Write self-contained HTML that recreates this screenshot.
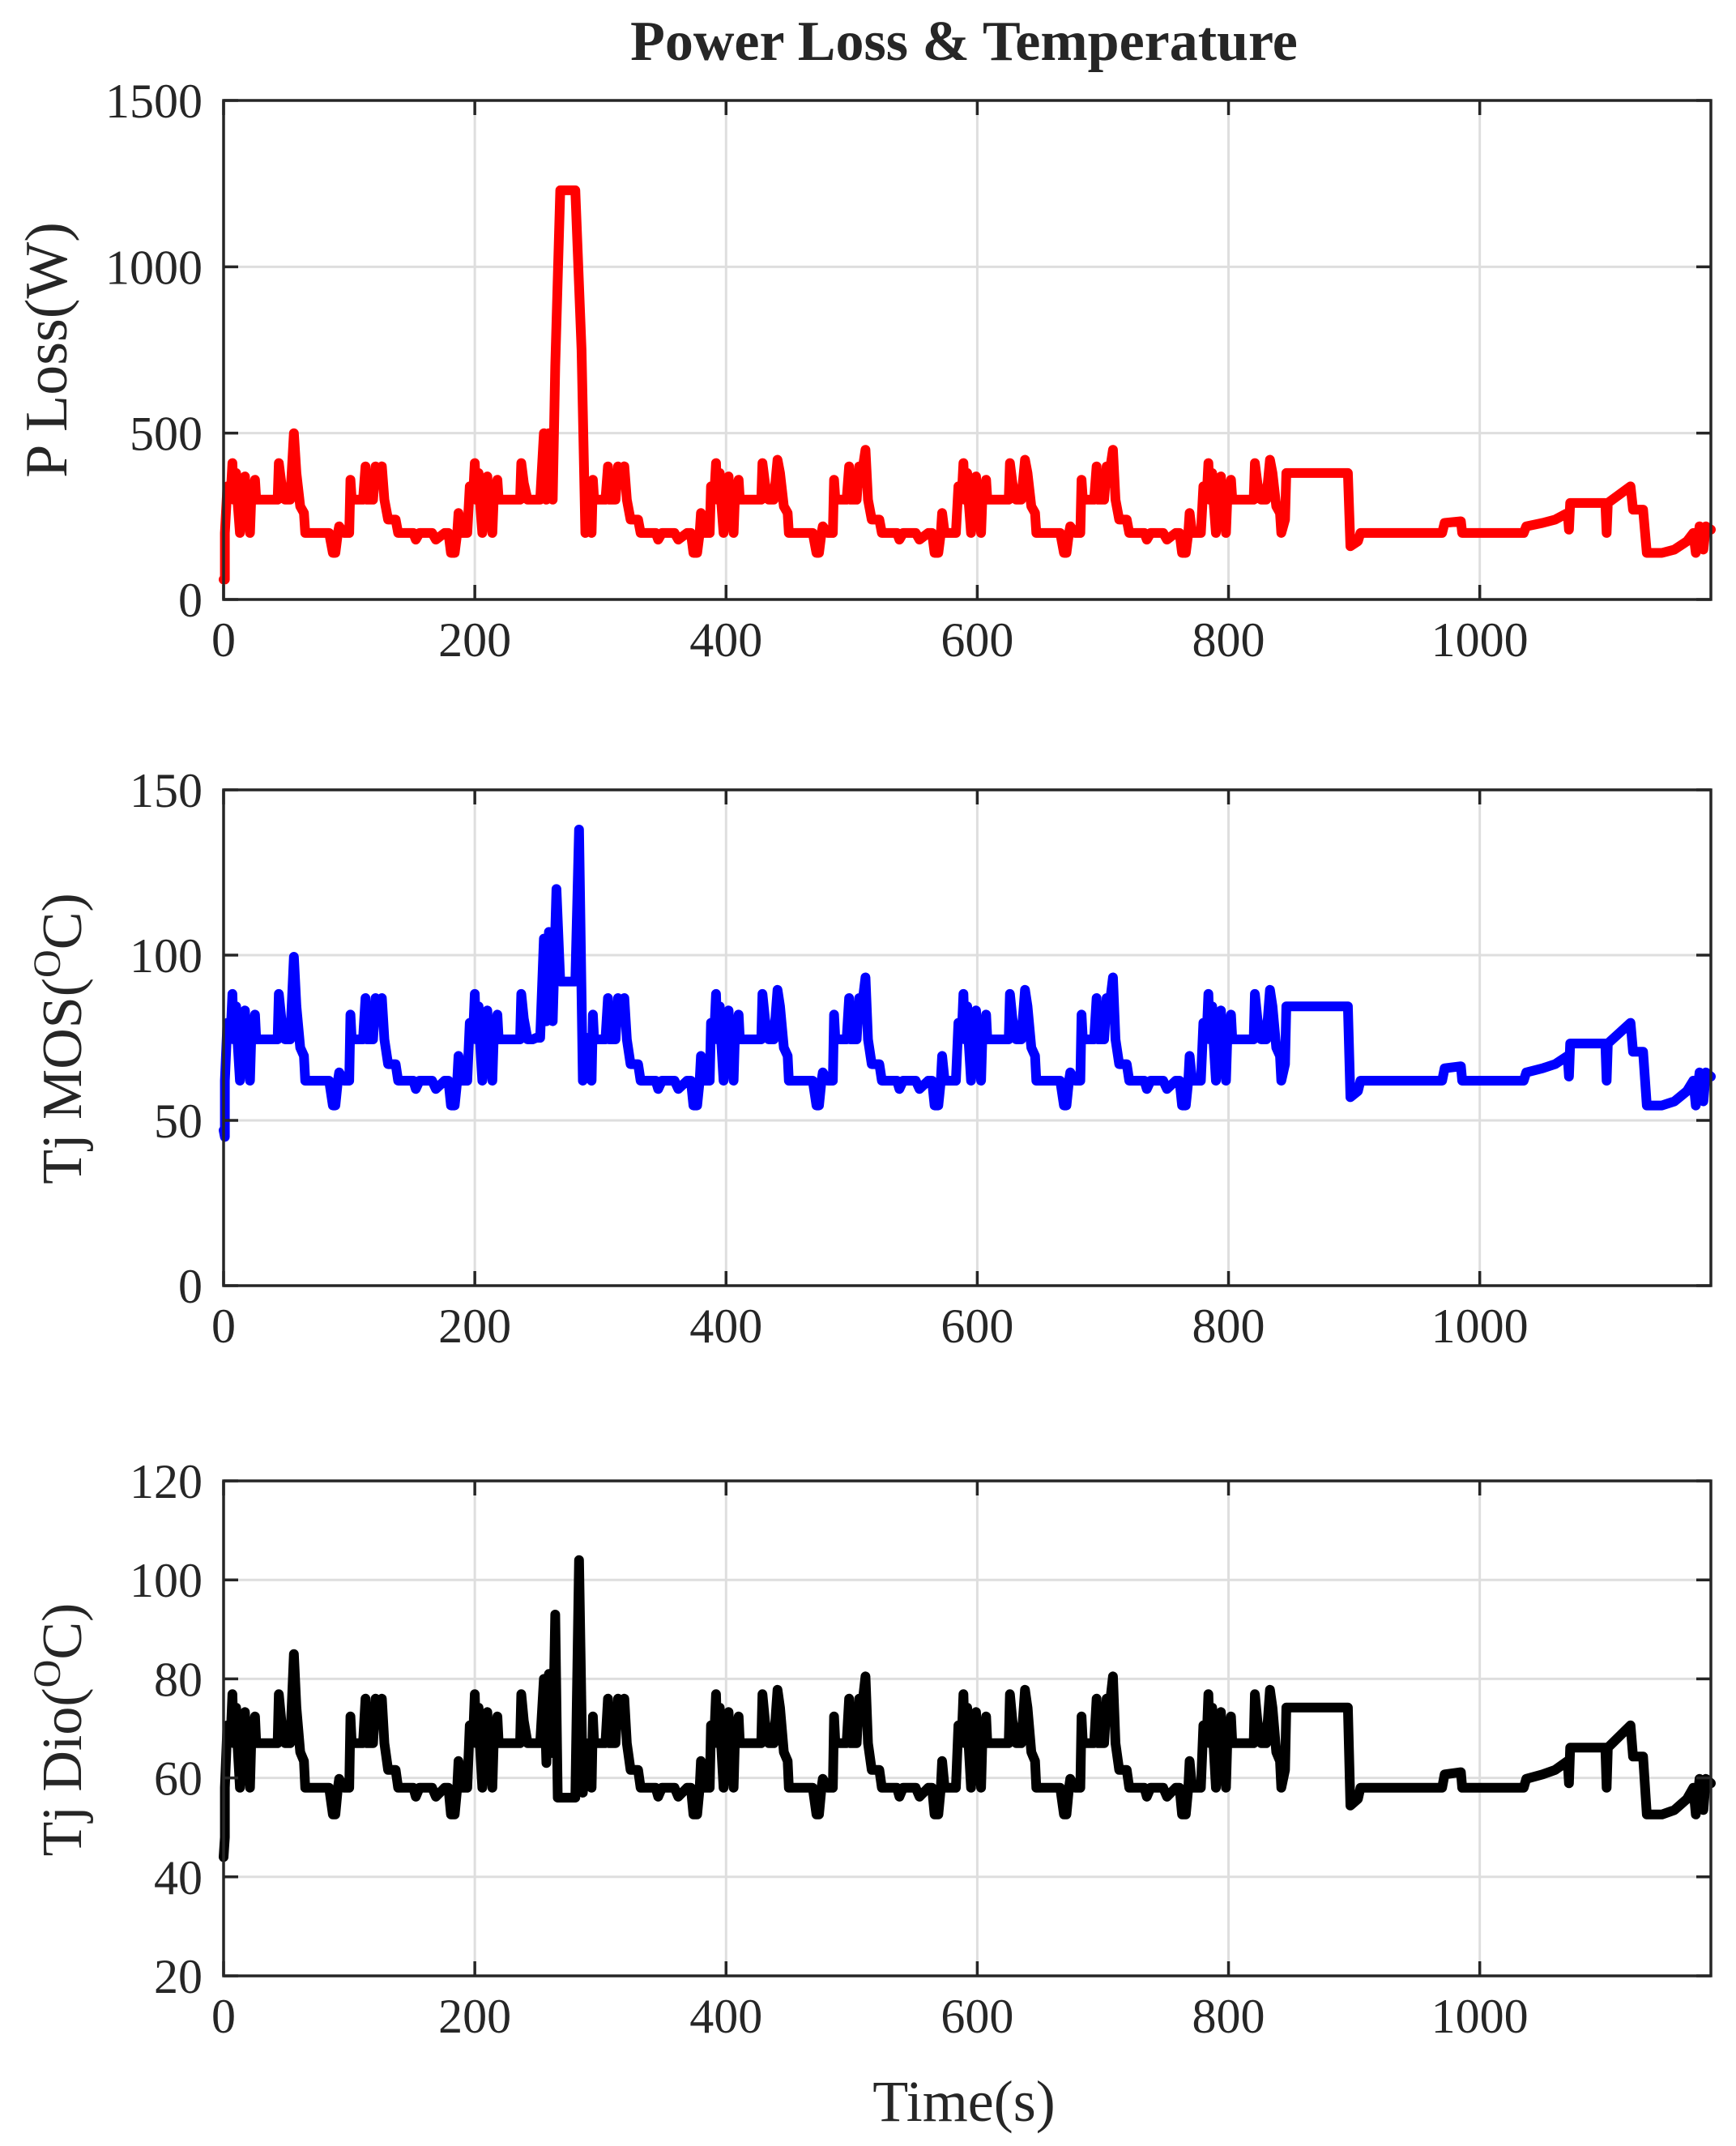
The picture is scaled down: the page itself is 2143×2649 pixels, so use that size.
<!DOCTYPE html>
<html><head><meta charset="utf-8"><style>
html,body{margin:0;padding:0;background:#fff;}
svg{display:block;}
text{font-family:"Liberation Serif",serif;fill:#262626;}
</style></head><body>
<svg id="s" width="2143" height="2649" viewBox="0 0 2143 2649" xmlns="http://www.w3.org/2000/svg">
<rect width="2143" height="2649" fill="#fff"/>
<text x="1190" y="74" font-size="70" font-weight="bold" text-anchor="middle">Power Loss &amp; Temperature</text>
<g id="g"></g>
<text x="1190" y="2618" font-size="72" text-anchor="middle">Time(s)</text>
<text transform="translate(82,432) rotate(-90)" font-size="74" text-anchor="middle">P Loss(W)</text>
<text transform="translate(100,1282) rotate(-90)" font-size="70" text-anchor="middle">Tj MOS(<tspan font-size="48" dy="-26">O</tspan><tspan dy="26">C)</tspan></text>
<text transform="translate(100,2135) rotate(-90)" font-size="70" text-anchor="middle">Tj Dio(<tspan font-size="48" dy="-26">O</tspan><tspan dy="26">C)</tspan></text>
</svg>
<script>
var NS="http://www.w3.org/2000/svg",G=document.getElementById('g');
function el(n,a,p){var e=document.createElementNS(NS,n);for(var k in a)e.setAttribute(k,a[k]);(p||G).appendChild(e);return e;}
var L=276,R=2112,XMAX=1184;
function X(t){return L+t*(R-L)/XMAX;}
var tmpl=[[0,200],[2,340],[5,340],[6,410],[7,300],[9,380],[10,300],[12,200],[13,300],[16,370],[17,300],[20,200],[21,300],[24,360],[25,300],[42,300],[43,410],[45,350],[48,300],[52,300],[55,500],[57,380],[60,280],[63,260],[64,200],[83,200],[86,140],[88,140],[90,200],[91,220],[95,200],[99,200],[100,360],[101,300],[110,300],[112,400],[113,300],[118,300],[120,400],[121,350],[125,400],[127,300],[130,240],[136,240],[138,200],[150,200],[152,180],[155,200],[165,200],[168,180],[175,200],[178,200],[180,140],[183,140],[185,200],[186,260],[188,200],[193,200]];
var offs=[0,194,386,583,778];
var P=[[0,60],[1,60]];
offs.forEach(function(o,i){
  tmpl.forEach(function(p){
    var t=o+p[0]+(i==0?1:0), v=p[1];
    if(i==1&&p[0]>=55&&p[0]<=95)return;
    if(i==4&&t>=845)return;
    if(i>=2&&p[0]==55)v=420;
    if((i==2||i==3)&&p[0]==125)v=450;
    P.push([t,v]);
  });
});
var tail=[[845,240],[846,380],[895,380],[897,160],[903,175],[905,200],[970,200],[972,230],[985,235],[986,200],[1035,200],[1037,220],[1050,230],[1060,240],[1070,260],[1071,210],[1072,290],[1100,290],[1101,200],[1102,290],[1120,340],[1122,270],[1130,270],[1133,140],[1145,140],[1155,150],[1165,175],[1170,200],[1172,140],[1175,220],[1178,150],[1180,220],[1184,210]];
P=P.concat(tail);
P.sort(function(a,b){return a[0]-b[0];});
function insertSpike(arr,sp){var out=[];arr.forEach(function(p){if(!(p[0]>=249&&p[0]<=289))out.push(p);});out=out.concat(sp);out.sort(function(a,b){return a[0]-b[0];});return out;}
var Pp=insertSpike(P.map(function(p){return [p[0],p[1]];}),[[249,300],[252,300],[255,500],[257,300],[259,500],[262,300],[264,700],[268,1230],[280,1230],[285,750],[288,200],[289,300]]);
var Mp=insertSpike(P.map(function(p){return [p[0],37+0.125*p[1]];}),[[249,75],[252,75],[255,105],[257,80],[259,107],[262,80],[265,120],[268,92],[280,92],[283,138],[286,62],[289,75]]);
var Dp=insertSpike(P.map(function(p){return [p[0],40+0.09*p[1]];}),[[249,67],[252,67],[255,80],[257,63],[259,81],[262,65],[264,93],[266,56],[280,56],[283,104],[286,57],[289,67]]);
Mp[0]=[0,47];Mp[1]=[1,45];Dp[0]=[0,44];Dp[1]=[1,48];
function panel(top,bot,ymin,ymax,yt,data,col){
  var Y=function(v){return bot-(v-ymin)*(bot-top)/(ymax-ymin);};
  [200,400,600,800,1000].forEach(function(t){el('line',{x1:X(t),x2:X(t),y1:top,y2:bot,stroke:'#dedede','stroke-width':3});});
  yt.forEach(function(v){if(v>ymin&&v<ymax)el('line',{x1:L,x2:R,y1:Y(v),y2:Y(v),stroke:'#dedede','stroke-width':3});});
  var pts=data.map(function(p){return X(Math.min(p[0],XMAX)).toFixed(1)+','+Y(p[1]).toFixed(1);}).join(' ');
  el('polyline',{points:pts,fill:'none',stroke:col,'stroke-width':12,'stroke-linejoin':'round','stroke-linecap':'round'});
  el('rect',{x:L,y:top,width:R-L,height:bot-top,fill:'none',stroke:'#262626','stroke-width':3.5});
  [0,200,400,600,800,1000].forEach(function(t){
    el('line',{x1:X(t),x2:X(t),y1:bot,y2:bot-18,stroke:'#262626','stroke-width':3.5});
    el('line',{x1:X(t),x2:X(t),y1:top,y2:top+18,stroke:'#262626','stroke-width':3.5});
    var e=el('text',{x:X(t),y:bot+70,'font-size':60,'text-anchor':'middle'});e.textContent=t;
  });
  yt.forEach(function(v){
    el('line',{x1:L,x2:L+18,y1:Y(v),y2:Y(v),stroke:'#262626','stroke-width':3.5});
    el('line',{x1:R,x2:R-18,y1:Y(v),y2:Y(v),stroke:'#262626','stroke-width':3.5});
    var e=el('text',{x:250,y:Y(v)+21,'font-size':60,'text-anchor':'end'});e.textContent=v;
  });
}
panel(124,740,0,1500,[0,500,1000,1500],Pp,'#ff0000');
panel(975,1587,0,150,[0,50,100,150],Mp,'#0000ff');
panel(1828,2439,20,120,[20,40,60,80,100,120],Dp,'#000000');
</script>
</body></html>
